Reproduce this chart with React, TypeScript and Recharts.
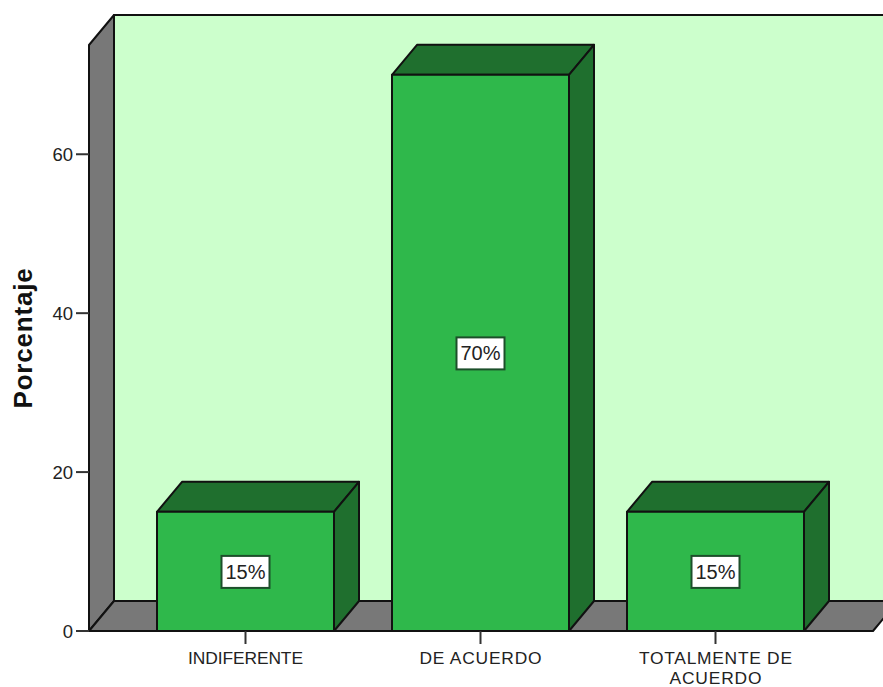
import { BarChart, Bar, XAxis, YAxis, LabelList, Label, usePlotArea } from "recharts";

const categories = ["INDIFERENTE", "DE ACUERDO", "TOTALMENTE DE ACUERDO"];
const percentages = [15, 70, 15];
const percentTicks = [0, 20, 40, 60];
const categoryLines = [["INDIFERENTE"], ["DE ACUERDO"], ["TOTALMENTE DE", "ACUERDO"]];

const rows = categories.map((name, i) => ({ name, value: percentages[i] }));

// oblique offset of the fake 3D extrusion
const DX = 25;
const DY = 30;
const INK = "#111111";
const FONT = "'Liberation Sans', Arial, sans-serif";
// rendered width of each tick line, the hinted text runs wider than Liberation
const LINE_WIDTHS: Record<string, number> = {
  INDIFERENTE: 115,
  "DE ACUERDO": 122,
  "TOTALMENTE DE": 153,
  ACUERDO: 92,
};

const pts = (list: number[][]) => list.map((p) => p.join(",")).join(" ");

function Walls() {
  const area = usePlotArea();
  if (!area) return null;
  const { x, y, width, height } = area;
  const right = x + width;
  const bottom = y + height;
  return (
    <g stroke={INK} strokeWidth={2} strokeLinejoin="round">
      <rect x={x + DX} y={y - DY} width={width} height={height} fill="#ccffcc" />
      <polygon points={pts([[x, y], [x + DX, y - DY], [x + DX, bottom - DY], [x, bottom]])} fill="#787878" />
      <polygon points={pts([[x, bottom], [x + DX, bottom - DY], [right + DX, bottom - DY], [right, bottom]])} fill="#787878" />
    </g>
  );
}

function Box(props: any) {
  const { x, y, width, height } = props;
  const r = x + width;
  const b = y + height;
  return (
    <g stroke={INK} strokeWidth={2} strokeLinejoin="round">
      <polygon points={pts([[x, y], [x + DX, y - DY], [r + DX, y - DY], [r, y]])} fill="#1f6f2e" />
      <polygon points={pts([[r, y], [r + DX, y - DY], [r + DX, b - DY], [r, b]])} fill="#1f6f2e" />
      <rect x={x} y={y} width={width} height={height} fill="#2fb84b" />
    </g>
  );
}

function ValueTag(props: any) {
  const { x, y, width, height, value } = props;
  const cx = x + width / 2;
  const cy = y + height / 2;
  return (
    <g>
      <rect x={cx - 24} y={cy - 15.5} width={48} height={32} fill="#ffffff" stroke="#1c4f2a" strokeWidth={2} />
      <text x={cx} y={cy + 7.5} textAnchor="middle" fontFamily={FONT} fontSize={20} fill="#222222">
        {value}%
      </text>
    </g>
  );
}

function CategoryTick(props: any) {
  const { x, y, index } = props;
  return (
    <g>
      {categoryLines[index].map((line, i) => (
        <text
          key={line}
          x={x}
          y={y + 18 + i * 20}
          textAnchor="middle"
          fontFamily={FONT}
          fontSize={17.4}
          fill="#222222"
          textLength={LINE_WIDTHS[line]}
          lengthAdjust="spacing"
        >
          {line}
        </text>
      ))}
    </g>
  );
}

export default function App() {
  return (
    <div style={{ position: "absolute", left: 0, top: 0, width: 883, height: 687, background: "#ffffff" }}>
      <BarChart
        width={883}
        height={687}
        data={rows}
        margin={{ top: 45, right: 10, bottom: 0, left: 0 }}
        barSize={177}
      >
        <Walls />
        <XAxis
          dataKey="name"
          interval={0}
          padding={{ left: 39, right: 40 }}
          height={56}
          tick={<CategoryTick />}
          tickSize={13}
          axisLine={{ stroke: INK, strokeWidth: 2 }}
          tickLine={{ stroke: "#333333", strokeWidth: 2 }}
        />
        <YAxis
          width={89}
          domain={[0, 73.75]}
          ticks={percentTicks}
          tickSize={13}
          tickMargin={3}
          tick={{ fontFamily: FONT, fontSize: 18.5, fill: "#222222" }}
          axisLine={{ stroke: INK, strokeWidth: 2 }}
          tickLine={{ stroke: "#333333", strokeWidth: 2 }}
        >
          <Label
            value="Porcentaje"
            angle={-90}
            position="insideLeft"
            offset={0}
            dx={23}
            dy={0}
            style={{ fontFamily: FONT, fontSize: 26, fontWeight: 700, letterSpacing: 0.8, fill: "#111111", textAnchor: "middle" }}
          />
        </YAxis>
        <Bar dataKey="value" shape={<Box />} isAnimationActive={false}>
          <LabelList dataKey="value" content={<ValueTag />} />
        </Bar>
      </BarChart>
    </div>
  );
}
